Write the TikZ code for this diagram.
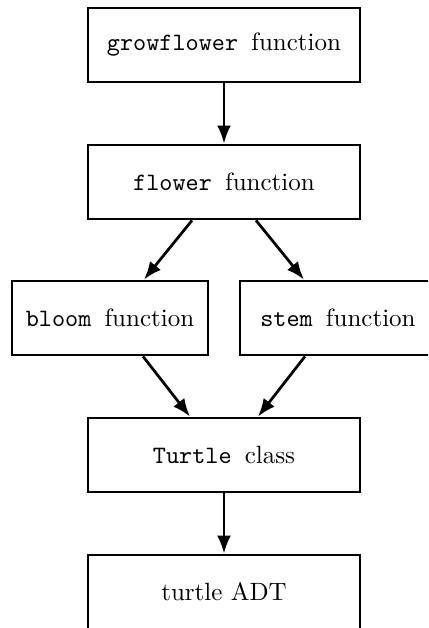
\documentclass[tikz,border=0pt]{standalone}
\usetikzlibrary{arrows.meta}
\begin{document}
\begin{tikzpicture}[x=0.4pt,y=-0.4pt,
  box/.style={draw,line width=1.1pt,rectangle,minimum height=29.6pt,inner sep=0pt,font=\fontsize{10}{12}\selectfont},
  wide/.style={box,minimum width=108.8pt},
  narrow/.style={box,minimum width=78.4pt},
  arr/.style={-{Latex[length=7.2pt,width=5.6pt]},line width=1.1pt}]
\useasboundingbox (0,0) rectangle (428,628);
\clip (0,0) rectangle (428,628);
\node[wide] (grow) at (224,45) {\texttt{growflower }function};
\node[wide] (flower) at (224,182) {\texttt{flower }function};
\node[narrow] (bloom) at (110,318) {\texttt{bloom }function};
\node[narrow] (stem) at (338,318) {\texttt{stem }function};
\node[wide] (turtle) at (224,455) {\texttt{Turtle }class};
\node[wide] (adt) at (224,592) {turtle ADT};
\draw[arr] (grow.south) -- (flower.north);
\draw[arr] ([xshift=-12.8pt]flower.south) -- ([xshift=13.6pt]bloom.north);
\draw[arr] ([xshift=12.8pt]flower.south) -- ([xshift=-13.6pt]stem.north);
\draw[arr] ([xshift=13.2pt]bloom.south) -- ([xshift=-13.6pt]turtle.north);
\draw[arr] ([xshift=-13.2pt]stem.south) -- ([xshift=13.6pt]turtle.north);
\draw[arr] (turtle.south) -- (adt.north);
\end{tikzpicture}
\end{document}
